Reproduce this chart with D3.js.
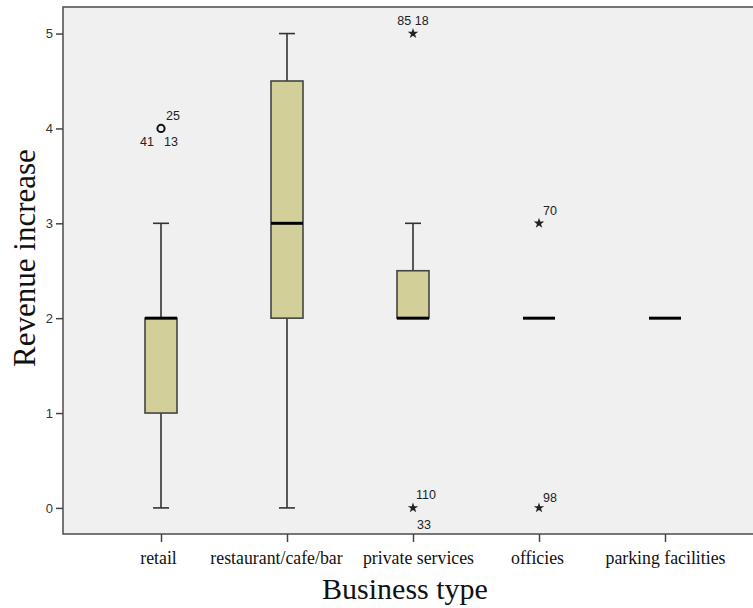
<!DOCTYPE html>
<html>
<head>
<meta charset="utf-8">
<script src="https://cdn.jsdelivr.net/npm/d3@7"></script>
<style>
  html, body { margin: 0; padding: 0; background: #ffffff; }
  svg { display: block; }
</style>
</head>
<body>
<svg id="chart" width="753" height="608"></svg>
<script>
// Revenue increase by business type – box plot summaries
const categories = ["retail", "restaurant/cafe/bar", "private services", "officies", "parking facilities"];
const whiskerLow  = [0, 0, 2, 2, 2];
const quartile1   = [1, 2, 2, 2, 2];
const medians     = [2, 3, 2, 2, 2];
const quartile3   = [2, 4.5, 2.5, 2, 2];
const whiskerHigh = [3, 5, 3, 2, 2];

// Outliers (circle) and extreme values (star) with case numbers
const outlierCategory = ["retail", "private services", "private services", "officies", "officies"];
const outlierValue    = [4, 5, 0, 3, 0];
const outlierKind     = ["circle", "star", "star", "star", "star"];
const outlierCases    = [["25", "41", "13"], ["85 18"], ["110", "33"], ["70"], ["98"]];

const yTicks = [0, 1, 2, 3, 4, 5];

const svg = d3.select("#chart");
const plot = { left: 63, top: 7, right: 770, bottom: 534 };

const x = d3.scalePoint().domain(categories).range([161, 665]);
const y = d3.scaleLinear().domain([-0.275, 5.28]).range([plot.bottom, plot.top]);

// plotting area
svg.append("rect")
  .attr("x", plot.left).attr("y", plot.top)
  .attr("width", plot.right - plot.left).attr("height", plot.bottom - plot.top)
  .attr("fill", "#f0f0f0")
  .attr("stroke", "#555").attr("stroke-width", 1.6);

// y axis
const yAxis = d3.axisLeft(y).tickValues(yTicks).tickSize(7).tickPadding(3).tickFormat(d3.format("d"));
const gy = svg.append("g").attr("transform", `translate(${plot.left},0)`).call(yAxis);
gy.select(".domain").remove();
gy.selectAll(".tick line").attr("stroke", "#444").attr("stroke-width", 1.5);
gy.selectAll(".tick text")
  .attr("font-family", "Liberation Sans, Arial, sans-serif")
  .attr("font-size", 13).attr("fill", "#333");

// x axis; long neighbouring labels are nudged apart so they don't touch
const labelNudge = { "retail": -3, "restaurant/cafe/bar": -11, "private services": 5, "officies": -2, "parking facilities": 0 };
const xAxis = d3.axisBottom(x).tickSize(8).tickPadding(9);
const gx = svg.append("g").attr("transform", `translate(0,${plot.bottom})`).call(xAxis);
gx.select(".domain").remove();
gx.selectAll(".tick line").attr("stroke", "#444").attr("stroke-width", 1.5);
gx.selectAll(".tick text")
  .attr("dx", d => labelNudge[d] || 0)
  .attr("font-family", "Liberation Serif, 'Times New Roman', serif")
  .attr("font-size", 17.8).attr("fill", "#111");

// axis titles
svg.append("text")
  .attr("x", 405).attr("y", 599)
  .attr("text-anchor", "middle")
  .attr("font-family", "Liberation Serif, 'Times New Roman', serif")
  .attr("font-size", 30).attr("fill", "#111")
  .text("Business type");

svg.append("text")
  .attr("transform", "translate(35,258) rotate(-90)")
  .attr("text-anchor", "middle")
  .attr("font-family", "Liberation Serif, 'Times New Roman', serif")
  .attr("font-size", 31).attr("fill", "#111")
  .text("Revenue increase");

// boxes
const boxW = 32, capW = 16;
const boxes = categories.map((c, i) => ({
  c, lo: whiskerLow[i], q1: quartile1[i], med: medians[i], q3: quartile3[i], hi: whiskerHigh[i]
}));

const g = svg.append("g");
boxes.forEach(b => {
  const cx = x(b.c);
  const gb = g.append("g");
  // whiskers
  if (b.hi > b.q3) {
    gb.append("line").attr("x1", cx).attr("x2", cx).attr("y1", y(b.q3)).attr("y2", y(b.hi))
      .attr("stroke", "#333").attr("stroke-width", 1.6);
    gb.append("line").attr("x1", cx - capW / 2).attr("x2", cx + capW / 2).attr("y1", y(b.hi)).attr("y2", y(b.hi))
      .attr("stroke", "#333").attr("stroke-width", 1.6);
  }
  if (b.lo < b.q1) {
    gb.append("line").attr("x1", cx).attr("x2", cx).attr("y1", y(b.q1)).attr("y2", y(b.lo))
      .attr("stroke", "#333").attr("stroke-width", 1.6);
    gb.append("line").attr("x1", cx - capW / 2).attr("x2", cx + capW / 2).attr("y1", y(b.lo)).attr("y2", y(b.lo))
      .attr("stroke", "#333").attr("stroke-width", 1.6);
  }
  // box
  if (b.q3 > b.q1) {
    gb.append("rect")
      .attr("x", cx - boxW / 2).attr("y", y(b.q3))
      .attr("width", boxW).attr("height", y(b.q1) - y(b.q3))
      .attr("fill", "#d3cf98").attr("stroke", "#444").attr("stroke-width", 1.6);
  }
  // median
  gb.append("line")
    .attr("x1", cx - boxW / 2).attr("x2", cx + boxW / 2)
    .attr("y1", y(b.med)).attr("y2", y(b.med))
    .attr("stroke", "#000").attr("stroke-width", 3);
});

// case-number label placement around each marker (dx, dy from marker centre)
const labelOffsets = {
  "25": [5, -8, "start"], "41": [-7, 18, "end"], "13": [3, 18, "start"],
  "85 18": [0, -9, "middle"],
  "110": [3, -9, "start"], "33": [4, 21, "start"],
  "70": [4, -8, "start"], "98": [4, -6, "start"]
};

outlierValue.forEach((v, i) => {
  const cx = x(outlierCategory[i]), cy = y(v);
  if (outlierKind[i] === "circle") {
    svg.append("circle").attr("cx", cx).attr("cy", cy).attr("r", 3.6)
      .attr("fill", "none").attr("stroke", "#111").attr("stroke-width", 2);
  } else {
    svg.append("path")
      .attr("d", d3.symbol().type(d3.symbolStar).size(34)())
      .attr("transform", `translate(${cx},${cy})`)
      .attr("fill", "#222");
  }
  outlierCases[i].forEach(lbl => {
    const o = labelOffsets[lbl];
    svg.append("text")
      .attr("x", cx + o[0]).attr("y", cy + o[1])
      .attr("text-anchor", o[2])
      .attr("font-family", "Liberation Sans, Arial, sans-serif")
      .attr("font-size", 12.5).attr("fill", "#222")
      .text(lbl);
  });
});
</script>
</body>
</html>
